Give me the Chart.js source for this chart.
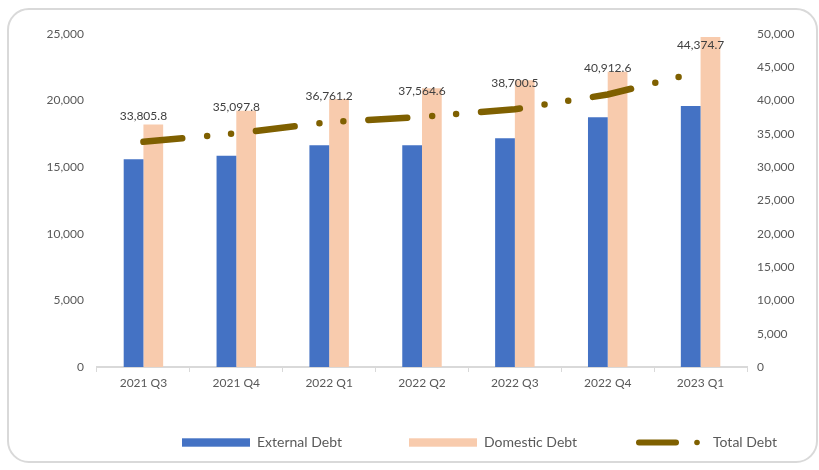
<!DOCTYPE html>
<html>
<head>
<meta charset="utf-8">
<script src="https://cdn.jsdelivr.net/npm/chart.js@4.4.0/dist/chart.umd.min.js"></script>
<style>
  html, body { margin: 0; padding: 0; background: #fff; }
  #wrap { position: relative; width: 819px; height: 470px; }
  #frame {
    position: absolute; left: 7px; top: 8px; width: 811px; height: 455px;
    box-sizing: border-box; border: 2px solid #d9d9d9; border-radius: 22px;
    pointer-events: none;
  }
</style>
</head>
<body>
<div id="wrap">
  <canvas id="debtChart" width="819" height="470"></canvas>
  <div id="frame"></div>
</div>
<script>
const quarters = ['2021 Q3', '2021 Q4', '2022 Q1', '2022 Q2', '2022 Q3', '2022 Q4', '2023 Q1'];
const externalDebt = [15600, 15860, 16640, 16640, 17170, 18750, 19600];
const domesticDebt = [18206, 19238, 20121, 20925, 21530, 22163, 24775];
const totalDebt = [33805.8, 35097.8, 36761.2, 37564.6, 38700.5, 40912.6, 44374.7];
const leftTicks = [0, 5000, 10000, 15000, 20000, 25000];
const rightTicks = [0, 5000, 10000, 15000, 20000, 25000, 30000, 35000, 40000, 45000, 50000];

const textColor = '#595959';
const fontFamily = 'Lato, "Open Sans", sans-serif';
const fmt = v => v.toLocaleString('en-US');

// labels above the total debt points
const totalLabels = {
    id: 'totalLabels',
    afterDatasetsDraw(chart) {
        const meta = chart.getDatasetMeta(2);
        const ctx = chart.ctx;
        ctx.save();
        ctx.font = '12px ' + fontFamily;
        ctx.fillStyle = '#404040';
        ctx.textAlign = 'center';
        ctx.textBaseline = 'middle';
        meta.data.forEach((pt, i) => {
            ctx.fillText(totalDebt[i].toLocaleString('en-US', {minimumFractionDigits: 1}), pt.x, pt.y - 26);
        });
        ctx.restore();
    }
};

// legend drawn by hand so the spacing matches
const bottomLegend = {
    id: 'bottomLegend',
    afterDraw(chart) {
        const ctx = chart.ctx;
        const y = 442.5;
        ctx.save();
        ctx.font = '14px ' + fontFamily;
        ctx.fillStyle = textColor;
        ctx.textBaseline = 'middle';
        ctx.textAlign = 'left';

        ctx.fillStyle = '#4472C4';
        ctx.fillRect(182, y - 4.2, 68, 8.4);
        ctx.fillStyle = textColor;
        ctx.fillText('External Debt', 257, y);

        ctx.fillStyle = '#F8CBAD';
        ctx.fillRect(409, y - 4.2, 68, 8.4);
        ctx.fillStyle = textColor;
        ctx.fillText('Domestic Debt', 484, y);

        ctx.strokeStyle = '#7F6000';
        ctx.lineCap = 'round';
        ctx.lineWidth = 6;
        ctx.beginPath();
        ctx.moveTo(639, y);
        ctx.lineTo(676, y);
        ctx.stroke();
        ctx.fillStyle = '#7F6000';
        ctx.beginPath();
        ctx.arc(697, y, 2.8, 0, Math.PI * 2);
        ctx.fill();
        ctx.fillStyle = textColor;
        ctx.fillText('Total Debt', 713, y);
        ctx.restore();
    }
};

new Chart(document.getElementById('debtChart'), {
    type: 'bar',
    data: {
        labels: quarters,
        datasets: [{
            label: 'External Debt',
            data: externalDebt,
            backgroundColor: '#4472C4',
            yAxisID: 'y',
            order: 2
        }, {
            label: 'Domestic Debt',
            data: domesticDebt,
            backgroundColor: '#F8CBAD',
            yAxisID: 'y',
            order: 2
        }, {
            type: 'line',
            label: 'Total Debt',
            data: totalDebt,
            yAxisID: 'y2',
            borderColor: '#7F6000',
            borderWidth: 6.5,
            borderCapStyle: 'round',
            borderDash: [39, 25, 0, 24, 0, 25],
            pointRadius: 0,
            tension: 0,
            order: 1
        }]
    },
    options: {
        responsive: false,
        animation: false,
        layout: { padding: { left: 40, right: 20, top: 34, bottom: 73 } },
        datasets: {
            bar: { categoryPercentage: 0.425, barPercentage: 1 }
        },
        plugins: {
            legend: { display: false },
            tooltip: { enabled: false }
        },
        scales: {
            x: {
                grid: { display: true, drawOnChartArea: false, drawTicks: true, tickLength: 5, color: '#d9d9d9', offset: true },
                border: { display: true, color: '#d9d9d9', width: 2 },
                ticks: { color: textColor, font: { family: fontFamily, size: 12 }, padding: 4, maxRotation: 0 },
                afterFit: s => { s.height = 30; }
            },
            y: {
                position: 'left',
                min: 0, max: 25000,
                afterBuildTicks: s => { s.ticks = leftTicks.map(v => ({ value: v })); },
                grid: { display: false, drawTicks: false },
                border: { display: false },
                ticks: { color: textColor, font: { family: fontFamily, size: 12 }, padding: 13, callback: v => fmt(v) },
                afterFit: s => { s.width = 57; }
            },
            y2: {
                position: 'right',
                min: 0, max: 50000,
                afterBuildTicks: s => { s.ticks = rightTicks.map(v => ({ value: v })); },
                grid: { display: false, drawTicks: false },
                border: { display: false },
                ticks: { color: textColor, font: { family: fontFamily, size: 12 }, padding: 10, callback: v => fmt(v) },
                afterFit: s => { s.width = 52; }
            }
        }
    },
    plugins: [totalLabels, bottomLegend]
});
</script>
</body>
</html>
